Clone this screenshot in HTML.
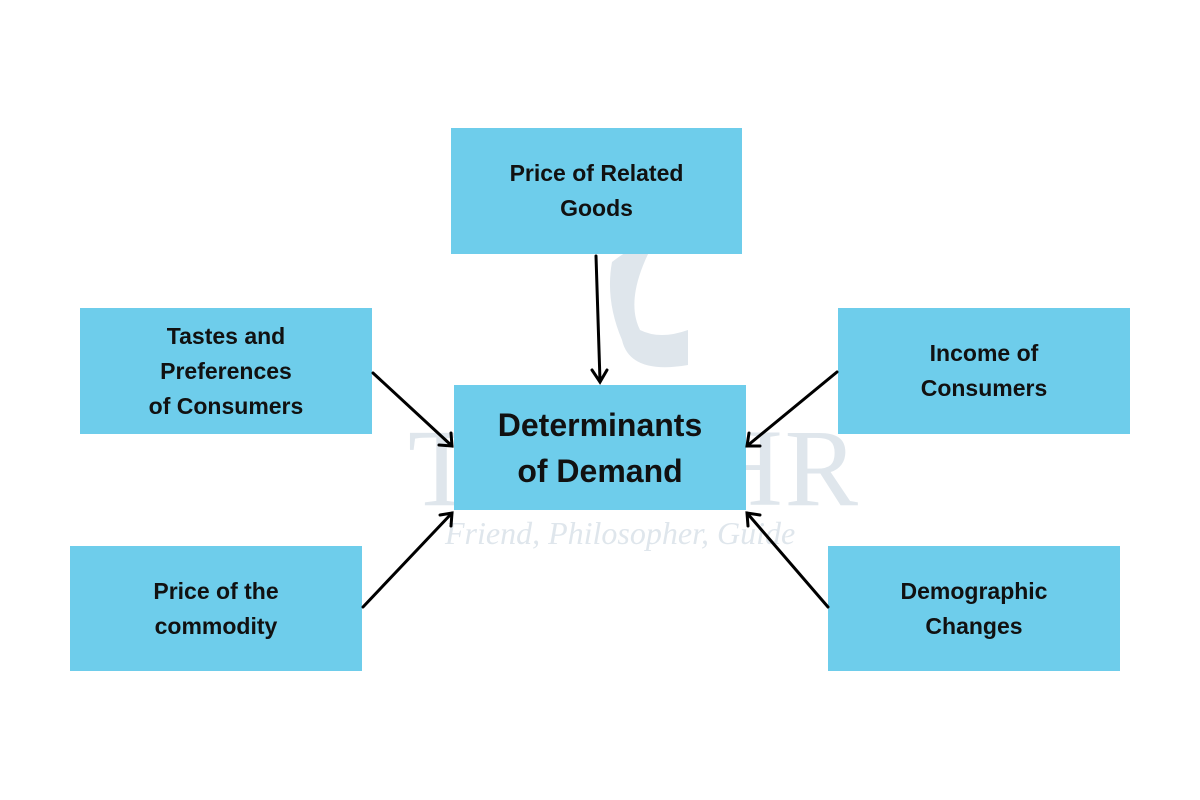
<!DOCTYPE html>
<html><head><style>
body{margin:0;width:1200px;height:800px;background:#fff;position:relative;overflow:hidden;font-family:"Liberation Sans",sans-serif}
.b{position:absolute;background:#6ecdeb;display:flex;align-items:center;justify-content:center;text-align:center;font-weight:bold;font-size:23px;line-height:35px;color:#111}
.wm{position:absolute;color:#dfe6ec;font-family:"Liberation Serif",serif;white-space:nowrap}
</style></head><body>
<div class="wm" style="left:408px;top:405px;font-size:110px;letter-spacing:2px">TEACHR</div>
<div class="wm" style="left:445px;top:515px;font-size:32px;font-style:italic">Friend, Philosopher, Guide</div>
<svg style="position:absolute;left:0;top:0" width="1200" height="800">
<path d="M612 262 Q640 240 650 250 Q625 300 640 330 Q660 340 688 330 L688 365 Q630 375 622 340 Q605 300 612 262Z" fill="#dfe6ec"/>
</svg>
<div class="b" style="left:451px;top:128px;width:291px;height:126px">Price of Related<br>Goods</div>
<div class="b" style="left:80px;top:308px;width:292px;height:126px">Tastes and<br>Preferences<br>of Consumers</div>
<div class="b" style="left:838px;top:308px;width:292px;height:126px">Income of<br>Consumers</div>
<div class="b" style="left:454px;top:385px;width:292px;height:125px;font-size:32px;line-height:46px">Determinants<br>of Demand</div>
<div class="b" style="left:70px;top:546px;width:292px;height:125px">Price of the<br>commodity</div>
<div class="b" style="left:828px;top:546px;width:292px;height:125px">Demographic<br>Changes</div>
<svg style="position:absolute;left:0;top:0" width="1200" height="800" fill="none" stroke="#000" stroke-width="3" stroke-linecap="round">
<path d="M596 256 L600 381 M592 370 L600 382 L607 370"/>
<path d="M373 373 L452 446 M439 445 L452 446 L451 433"/>
<path d="M837 372 L747 446 M760 446 L747 446 L749 433"/>
<path d="M363 607 L452 513 M440 515 L452 513 L451 526"/>
<path d="M828 607 L747 513 M760 515 L747 513 L748 526"/>
</svg>
</body></html>
